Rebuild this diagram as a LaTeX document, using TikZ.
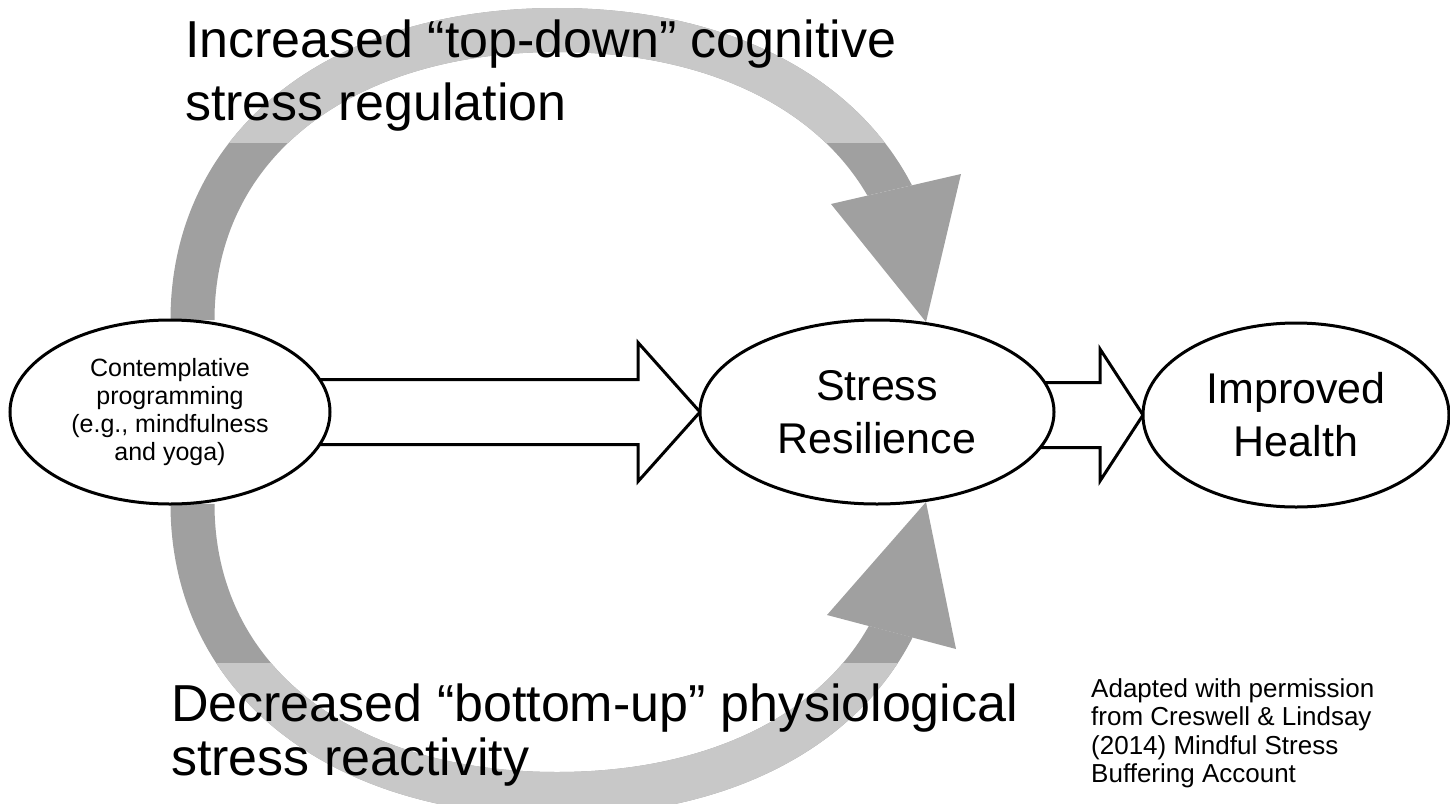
\documentclass[tikz,border=0pt]{standalone}
\usepackage{fontspec}
\setmainfont{Liberation Sans}
\usetikzlibrary{shapes.geometric,calc,backgrounds}
\definecolor{bandlight}{RGB}{200,200,200}
\definecolor{banddark}{RGB}{160,160,160}
\begin{document}
\begin{tikzpicture}[x=1pt,y=-1pt,
  oval/.style={ellipse,draw=black,line width=3pt,fill=white,inner sep=0pt,outer sep=0pt,
               minimum height=184pt,align=center},
  blockarrow/.style={draw=black,line width=3pt,fill=white,line join=miter},
  band/.style={line width=44pt},
  bigtext/.style={anchor=base west,inner sep=0pt,font=\fontsize{52}{62}\selectfont},
  midtext/.style={font=\fontsize{43}{53}\selectfont},
  smalltext/.style={font=\fontsize{25}{28}\selectfont},
  notetext/.style={anchor=north west,inner sep=0pt,align=left,font=\fontsize{26}{28.5}\selectfont}]

\useasboundingbox (0,0) rectangle (1450,803);

% the three stages
\node[oval,minimum width=320pt,smalltext] (prog) at (170,412)
  {Contemplative\\programming\\(e.g., mindfulness\\and yoga)};
\node[oval,minimum width=354pt,midtext] (stress) at (877,412) {Stress\\Resilience};
\node[oval,minimum width=306pt,midtext] (health) at (1296,415) {Improved\\Health};

\begin{scope}[on background layer]
  % upper curved pathway
  \begin{scope}
    \clip (0,0) -- (1450,0) -- (1450,61) -- (0,396) -- cycle;
    \draw[band,banddark] ($(prog.north)+(22.5,0)$) .. controls (192.5,146) and (338,30) .. (557,30)
      .. controls (776,30) and (921.5,146) .. ($(stress.north)+(44.5,0)$);
    \clip (0,0) rectangle (1450,142);
    \draw[band,bandlight] ($(prog.north)+(22.5,0)$) .. controls (192.5,146) and (338,30) .. (557,30)
      .. controls (776,30) and (921.5,146) .. ($(stress.north)+(44.5,0)$);
  \end{scope}
  \fill[banddark] (831,204) -- (961,174) -- ($(stress.north)+(49,2)$) -- cycle;

  % lower curved pathway
  \begin{scope}
    \clip (0,397) -- (1450,779) -- (1450,900) -- (0,900) -- cycle;
    \draw[band,banddark] ($(prog.south)+(22.5,0)$) .. controls (192.5,678) and (338,794) .. (557,794)
      .. controls (776,794) and (921.5,678) .. ($(stress.south)+(44.5,0)$);
    \clip (0,663) rectangle (1450,900);
    \draw[band,bandlight] ($(prog.south)+(22.5,0)$) .. controls (192.5,678) and (338,794) .. (557,794)
      .. controls (776,794) and (921.5,678) .. ($(stress.south)+(44.5,0)$);
  \end{scope}
  \fill[banddark] (827,615) -- (956,649) -- ($(stress.south)+(49,-2)$) -- cycle;

  % block arrows between the stages
  \draw[blockarrow] ($(prog.east)+(-15,-32.5)$) -- ($(stress.west)+(-62,-32.5)$)
    -- ($(stress.west)+(-62,-69.5)$) -- (stress.west) -- ($(stress.west)+(-62,69.5)$)
    -- ($(stress.west)+(-62,32.5)$) -- ($(prog.east)+(-15,32.5)$);
  \draw[blockarrow] ($(stress.east |- health.west)+(-15,-32.5)$) -- ($(health.west)+(-43,-32.5)$)
    -- ($(health.west)+(-43,-66)$) -- (health.west) -- ($(health.west)+(-43,66)$)
    -- ($(health.west)+(-43,32.5)$) -- ($(stress.east |- health.west)+(-15,32.5)$);
\end{scope}

% pathway labels
\node[bigtext] (toplab1) at (185,57) {Increased “top-down” cognitive};
\node[bigtext] (toplab2) at (185,120) {stress regulation};
\node[bigtext] (botlab1) at (171,721) {Decreased “bottom-up” physiological};
\node[bigtext] (botlab2) at (171,775) {stress reactivity};

% source note
\node[notetext] (note) at (1091,678)
  {Adapted with permission\\from Creswell \& Lindsay\\(2014) Mindful Stress\\Buffering Account};
\end{tikzpicture}
\end{document}
